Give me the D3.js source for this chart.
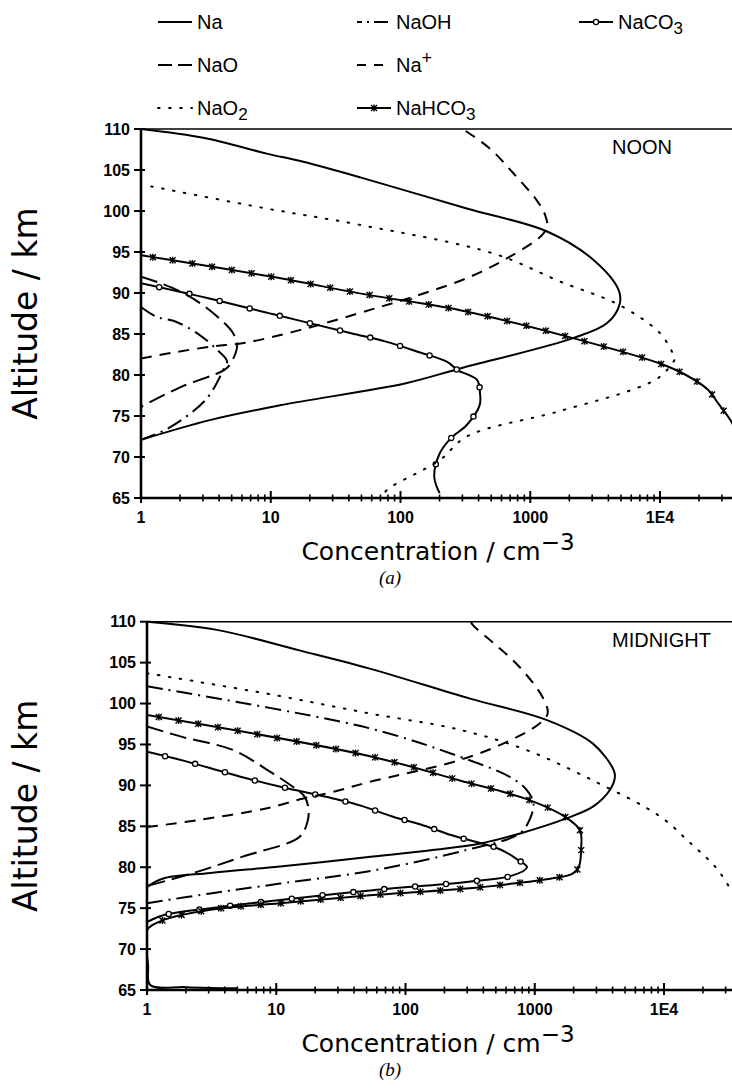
<!DOCTYPE html>
<html><head><meta charset="utf-8">
<script src="https://cdn.jsdelivr.net/npm/d3@7"></script>
<style>body{margin:0;background:#fff}svg{display:block}</style>
</head><body>
<svg id="chart" width="732" height="1089"></svg>
<script>
// ---------- DATA ----------
const legendOrder = ["Na","NaOH","NaCO3","NaO","Na+","NaO2","NaHCO3"];
const altTicks = [65,70,75,80,85,90,95,100,105,110];
const concTickValues = [1,10,100,1000,10000];
const concTickLabels = ["1","10","100","1000","1E4"];
const panelLabels = ["NOON","MIDNIGHT"];
const captionLabels = ["(a)","(b)"];

// NOON (a)
const noonNaConc   = [1,3.09,9.3,17.8,49,324,1349,3090,4786,4898,3890,2138,288,110,11.7,3.39,1];
const noonNaAlt    = [110,108.9,107,106,104.1,100.3,97.5,94,90.4,88.7,86.3,84.5,80.8,79,76.3,74.5,72.1];
const noonNaOHConc = [1,1.32,1.86,2.82,3.9,4.6,4.3,3.16,1.62,1];
const noonNaOHAlt  = [88.3,87.1,86.5,84.9,83,81.7,80.6,77,73.5,72.1];
const noonNaCO3Conc= [1,3.24,10.5,41.7,76,138,229,275,389,410,407,324,245,200,182,200];
const noonNaCO3Alt = [91.2,89.4,87.4,85.1,84.1,82.8,81.6,80.6,79.4,77.8,76.3,73.9,72.3,70.4,67.6,65.6];
const noonNaOConc  = [1,1.41,2.24,3.63,5.13,5.5,4.9,4.37,2,1];
const noonNaOAlt   = [92,91.2,89.8,87.5,85.1,83.5,81.4,80.6,78.5,76.1];
const noonNapConc  = [1,1.86,3.63,6.17,17,60,129,347,692,1202,1349,1288,1122,741,490,302];
const noonNapAlt   = [82,82.8,83.5,83.9,85.5,88,89.6,92,94.4,96.9,98.1,99.7,101.3,104.6,107.6,110];
const noonNaO2Conc = [1.2,9.3,49,525,1698,4898,10000,12589,13000,10000,6607,1600,324,200,79,71];
const noonNaO2Alt  = [103,100.3,98.3,94.8,91.4,88.5,85.1,82.6,82,79.8,78.4,75.5,72.5,69.6,66,65];
const noonNaHCO3Conc=[1,10,55,288,2138,10000,15849,23442,28184,35481,41687];
const noonNaHCO3Alt= [94.6,92,89.8,87.9,84.5,81.4,80,78.2,76.5,74.3,72];

// MIDNIGHT (b)
const midNaConc    = [1,3.47,15.1,52,316,1230,2818,4074,4169,3802,2818,1778,759,380,162,56,10.7,3.09,1.32,1];
const midNaAlt     = [110,109,106.5,104.3,100.6,98,95.1,91.9,91,89.4,87.4,86,84.1,82.9,82.1,81.3,80.1,79.3,78.6,77.6];
const midNaOHConc  = [1,52,263,646,871,977,912,759,295,56,10.7,3.09,1];
const midNaOHAlt   = [102.1,97,93.5,91,89.4,87.8,85.8,84.1,82.1,79.6,78,76.8,75.6];
const midNaCO3Conc = [1,2.04,3.8,6.46,11,27.5,45.7,79,138,229,537,741,871,676,295,56,10.7,3.09,1.32,1];
const midNaCO3Alt  = [94.1,92.9,91.7,90.7,89.8,88.4,87.5,86.2,85.1,83.9,82.2,80.9,80,79,78.2,77.2,76,75,74.1,73.3];
const midNaOConc   = [1,1.9,4.68,8.5,13.5,16.6,17.8,17.4,15.1,5.5,2.4,1];
const midNaOAlt    = [97.2,95.9,94.3,91.9,89.8,88.6,87,85.5,83.7,81.3,79.4,77.7];
const midNapConc   = [1,2.57,8.5,16.2,27.5,52,263,646,1096,1259,1148,759,479,331,320];
const midNapAlt    = [84.9,85.8,87.2,88.4,89.2,90.4,93.1,95.5,97.6,98.8,100.8,104.5,107.4,109.6,110];
const midNaO2Conc  = [1,8.5,52.5,263,871,2818,9333,15849,25119,33113,40000];
const midNaO2Alt   = [103.7,101.2,98.8,96.8,94.3,90.6,86.2,83,80,77.2,75];
const midNaHCO3Conc= [1,52,263,912,1778,2239,2291,2188,1950,1318,676,295,56,10.7,3.09,1.32,1,1.02,1.06,2,5];
const midNaHCO3Alt = [98.6,93.6,90.6,88.2,86,84.5,82.5,80,79.2,78.6,78,77.4,76.6,75.6,74.8,73.5,72.3,68,65.6,65.35,65.2];

// ---------- STYLES ----------
const styles = {
  "Na":     {dash:null},
  "NaOH":   {dash:"16 6 2 6", legendDash:"5 5 2 5 14"},
  "NaCO3":  {dash:null, marker:"circle", spacing:31},
  "NaO":    {dash:"17 7", legendDash:"14 6 14"},
  "Na+":    {dash:"11 8", legendDash:"9 8 9"},
  "NaO2":   {dash:"1.6 9.5", cap:"round", width:2},
  "NaHCO3": {dash:null, marker:"cross", spacing:20}
};

const panels = [
  {x0:141, x1e4:660, yTop:129, yBot:498, label:panelLabels[0], caption:captionLabels[0],
   series:{"Na":[noonNaConc,noonNaAlt],"NaOH":[noonNaOHConc,noonNaOHAlt],"NaCO3":[noonNaCO3Conc,noonNaCO3Alt],
           "NaO":[noonNaOConc,noonNaOAlt],"Na+":[noonNapConc,noonNapAlt],"NaO2":[noonNaO2Conc,noonNaO2Alt],
           "NaHCO3":[noonNaHCO3Conc,noonNaHCO3Alt]}},
  {x0:147, x1e4:664, yTop:621.7, yBot:990, label:panelLabels[1], caption:captionLabels[1],
   series:{"Na":[midNaConc,midNaAlt],"NaOH":[midNaOHConc,midNaOHAlt],"NaCO3":[midNaCO3Conc,midNaCO3Alt],
           "NaO":[midNaOConc,midNaOAlt],"Na+":[midNapConc,midNapAlt],"NaO2":[midNaO2Conc,midNaO2Alt],
           "NaHCO3":[midNaHCO3Conc,midNaHCO3Alt]}}
];

const svg = d3.select("#chart");
const W = 732;
const tickFont = "'Liberation Sans', Arial, sans-serif";
const titleFont = "'DejaVu Sans', sans-serif";

function drawMarker(g, type, x, y) {
  if (type === "circle") {
    g.append("circle").attr("cx",x).attr("cy",y).attr("r",2.6)
      .attr("fill","#fff").attr("stroke","#000").attr("stroke-width",1.3);
  } else {
    const s = 3;
    g.append("path").attr("d",`M${x-s},${y-s}L${x+s},${y+s}M${x-s},${y+s}L${x+s},${y-s}M${x},${y-s-0.5}L${x},${y+s+0.5}`)
      .attr("stroke","#000").attr("stroke-width",1.4).attr("fill","none");
  }
}

panels.forEach((p, pi) => {
  const x = d3.scaleLog().domain([1,1e4]).range([p.x0, p.x1e4]);
  const y = d3.scaleLinear().domain([65,110]).range([p.yBot, p.yTop]);
  const g = svg.append("g");
  const clipId = "clip"+pi;
  svg.append("clipPath").attr("id",clipId).append("rect")
    .attr("x",p.x0).attr("y",p.yTop-1).attr("width",W-p.x0).attr("height",p.yBot-p.yTop+2);

  const line = d3.line().x(d=>x(d[0])).y(d=>y(d[1])).curve(d3.curveCatmullRom.alpha(0.5));
  const plot = g.append("g").attr("clip-path",`url(#${clipId})`);
  Object.entries(p.series).forEach(([name,[conc,alt]]) => {
    const st = styles[name];
    const pts = conc.map((c,i)=>[c,alt[i]]);
    const path = plot.append("path").attr("d",line(pts)).attr("fill","none")
      .attr("stroke","#000").attr("stroke-width",st.width||2)
      .attr("stroke-linecap",st.cap||"butt").attr("stroke-linejoin","round");
    if (st.dash) path.attr("stroke-dasharray",st.dash);
    if (st.marker) {
      const node = path.node(); const L = node.getTotalLength();
      for (let l = st.spacing*0.6; l < L; l += st.spacing) {
        const pt = node.getPointAtLength(l);
        if (pt.x < W-2 && pt.x > p.x0+2 && pt.y < p.yBot-5) drawMarker(plot, st.marker, pt.x, pt.y);
      }
    }
  });

  g.append("line").attr("x1",p.x0).attr("x2",W).attr("y1",p.yTop).attr("y2",p.yTop)
    .attr("stroke","#000").attr("stroke-width",1.6);
  g.append("line").attr("x1",p.x0).attr("x2",p.x0).attr("y1",p.yTop).attr("y2",p.yBot+1)
    .attr("stroke","#000").attr("stroke-width",2.6);
  g.append("line").attr("x1",p.x0-1).attr("x2",W).attr("y1",p.yBot).attr("y2",p.yBot)
    .attr("stroke","#000").attr("stroke-width",2.4);
  altTicks.forEach(a => {
    g.append("line").attr("x1",p.x0-7).attr("x2",p.x0+4).attr("y1",y(a)).attr("y2",y(a))
      .attr("stroke","#000").attr("stroke-width",2);
    g.append("text").attr("x",p.x0-11).attr("y",y(a)).attr("dy","0.36em")
      .attr("text-anchor","end").attr("font-family",tickFont).attr("font-weight","bold")
      .attr("font-size",16).text(a);
  });
  const xt = d3.scaleLog().domain([1, x.invert(W)]);
  xt.ticks().forEach(v => {
    const major = concTickValues.includes(v);
    const xp = x(v);
    if (xp > W) return;
    g.append("line").attr("x1",xp).attr("x2",xp)
      .attr("y1",p.yBot-(major?7:3.5)).attr("y2",p.yBot+(major?5:3.5))
      .attr("stroke","#000").attr("stroke-width",major?2:1.6);
  });
  concTickValues.forEach((v,i) => {
    g.append("text").attr("x",x(v)).attr("y",p.yBot+25).attr("text-anchor","middle")
      .attr("font-family",tickFont).attr("font-weight","bold").attr("font-size",16)
      .text(concTickLabels[i]);
  });
  const xt2 = g.append("text").attr("x",438).attr("y",p.yBot+62).attr("text-anchor","middle")
    .attr("font-family",titleFont).attr("font-size",25);
  xt2.append("tspan").text("Concentration / cm");
  xt2.append("tspan").attr("dy",-10).attr("font-size",23).text("\u22123");
  g.append("text").attr("transform",`translate(37,${(p.yTop+p.yBot)/2}) rotate(-90)`)
    .attr("text-anchor","middle").attr("font-family",titleFont).attr("font-size",33)
    .text("Altitude / km");
  g.append("text").attr("x",612).attr("y",p.yTop+25).attr("font-family",tickFont)
    .attr("font-size",20).text(p.label);
  g.append("text").attr("x",390).attr("y",p.yBot+86).attr("text-anchor","middle")
    .attr("font-family","'Liberation Serif', serif").attr("font-style","italic")
    .attr("font-size",19).text(p.caption);
});

// ---------- LEGEND ----------
const legendCols = [158, 357, 579];
const legendRows = [22, 65, 108];
const legendPos = [[0,0],[1,0],[2,0],[0,1],[1,1],[0,2],[1,2]];
const legendText = {
  "Na":[["Na",0]], "NaOH":[["NaOH",0]], "NaCO3":[["NaCO",0],["3",1]],
  "NaO":[["NaO",0]], "Na+":[["Na",0],["+",-1]], "NaO2":[["NaO",0],["2",1]],
  "NaHCO3":[["NaHCO",0],["3",1]]
};
const lg = svg.append("g");
legendOrder.forEach((name,i) => {
  const [c,r] = legendPos[i];
  const x0 = legendCols[c], yy = legendRows[r];
  const st = styles[name];
  const ln = lg.append("line").attr("x1",x0).attr("x2",x0+34).attr("y1",yy).attr("y2",yy)
    .attr("stroke","#000").attr("stroke-width",st.width||2).attr("stroke-linecap",st.cap||"butt");
  if (st.dash) ln.attr("stroke-dasharray", st.legendDash || st.dash);
  if (st.marker) drawMarker(lg, st.marker, x0+17, yy);
  const t = lg.append("text").attr("x",x0+39).attr("y",yy+7).attr("font-family",tickFont).attr("font-size",20);
  legendText[name].forEach(([s,sh]) => {
    if (sh===1) t.append("tspan").attr("dy",5).attr("font-size",17).text(s);
    else if (sh===-1) t.append("tspan").attr("dy",-8).attr("font-size",18).text(s);
    else t.append("tspan").text(s);
  });
});
</script>
</body></html>
